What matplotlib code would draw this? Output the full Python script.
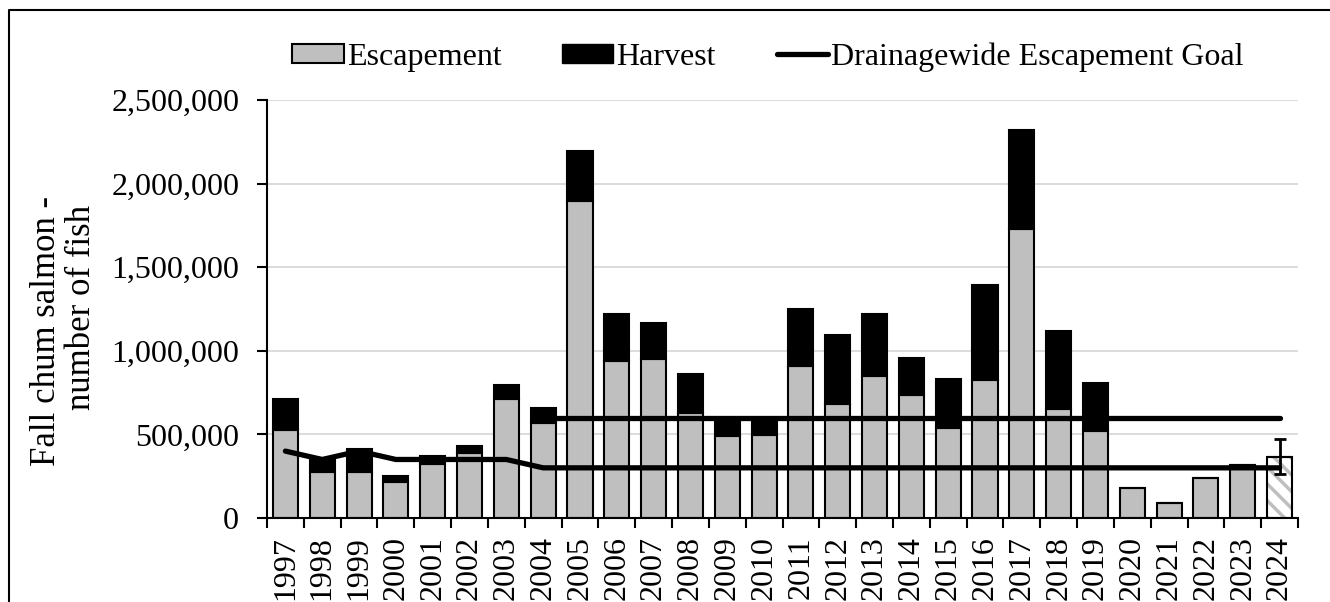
import numpy as np
import matplotlib
matplotlib.use("Agg")
import matplotlib.pyplot as plt
from matplotlib.lines import Line2D
from matplotlib.ticker import FuncFormatter

plt.rcParams['font.family'] = ['Liberation Serif', 'DejaVu Serif']
plt.rcParams['hatch.linewidth'] = 2.5

# data
years = [str(y) for y in range(1997, 2025)]
escapement = [529000, 273000, 278000, 216000, 324000, 390000, 709000, 569000,
              1898000, 939000, 949000, 629000, 489000, 499000, 909000, 683000,
              849000, 735000, 537000, 825000, 1728000, 649000, 523000, 180000,
              90000, 240000, 315000, 366000]
harvest = [180000, 87000, 137000, 33000, 49000, 39000, 86000, 86000,
           296000, 280000, 218000, 232000, 111000, 91000, 340000, 410000,
           374000, 224000, 296000, 569000, 594000, 470000, 282000, 0,
           0, 0, 0, 0]
goal_lower = [400000, 350000, 400000, 350000, 350000, 350000, 350000] + [300000] * 21
goal_upper = [600000] * 21   # 2004-2024
err_low_2024 = 266000
err_high_2024 = 474000

x = np.arange(len(years))
gray = '#bfbfbf'
fs = 23

fig = plt.figure(figsize=(13.3, 6.02), dpi=100)
ax = fig.add_axes([267 / 1330, 1 - 518 / 602, (1298 - 267) / 1330, (518 - 100) / 602])

bw = 0.68
esc_bars = ax.bar(x, escapement, width=bw, color=gray, edgecolor='black', linewidth=1.5, zorder=2)
ax.bar(x, harvest, bottom=escapement, width=bw, color='black', edgecolor='black', linewidth=1.5, zorder=2)

# 2024 is a preliminary estimate: hatched bar with error bar
last = esc_bars[-1]
last.set_facecolor('white')
last.set_hatch('\\\\')
last._hatch_color = matplotlib.colors.to_rgba(gray)
ax.errorbar(x[-1], escapement[-1],
            yerr=[[escapement[-1] - err_low_2024], [err_high_2024 - escapement[-1]]],
            fmt='none', ecolor='black', elinewidth=2, capsize=4.5, capthick=2, zorder=4)

ax.plot(x, goal_lower, color='black', lw=3.8, solid_capstyle='round', solid_joinstyle='round', zorder=3)
ax.plot(x[years.index('2004'):], goal_upper, color='black', lw=3.8, solid_capstyle='round', zorder=3)

ax.set_xlim(-0.5, len(years) - 0.5)
ax.set_ylim(0, 2500000)
ax.set_yticks(np.arange(0, 2500001, 500000))
ax.yaxis.set_major_formatter(FuncFormatter(lambda v, p: f'{int(v):,}'))
ax.set_xticks(x)
ax.set_xticklabels(years, rotation=90, fontsize=fs)
ax.set_xticks(np.arange(-0.5, len(years), 1), minor=True)
ax.tick_params(axis='x', which='major', length=0, pad=13)
ax.tick_params(axis='x', which='minor', length=7, width=1.5, direction='out')
ax.tick_params(axis='y', labelsize=fs, length=7, width=1.5, pad=13)
ax.grid(axis='y', color='#d9d9d9', lw=1.3, zorder=0)
ax.set_axisbelow(True)
for s in ['top', 'right']:
    ax.spines[s].set_visible(False)
for s in ['left', 'bottom']:
    ax.spines[s].set_linewidth(1.5)

fig.text(47 / 1330, 1 - 331 / 602, 'Fall chum salmon -', rotation=90,
         ha='center', va='center', fontsize=25)
fig.text(82 / 1330, 1 - 307 / 602, 'number of fish', rotation=90,
         ha='center', va='center', fontsize=25)

handles = [plt.Rectangle((0, 0), 1, 1, facecolor=gray, edgecolor='black', lw=1.5),
           plt.Rectangle((0, 0), 1, 1, facecolor='black', edgecolor='black'),
           Line2D([0], [0], color='black', lw=3.8, solid_capstyle='round')]
fig.legend(handles, ['Escapement', 'Harvest', 'Drainagewide Escapement Goal'],
           loc='center', bbox_to_anchor=(768 / 1330, 1 - 57 / 602), ncol=3, frameon=False,
           fontsize=fs, handlelength=1.6, handleheight=0.55, handletextpad=0.1,
           columnspacing=1.9)

# outer frame (top and left edges visible)
fig.add_artist(Line2D([9 / 1330, 9 / 1330, 1.0], [0.0, 1 - 10 / 602, 1 - 10 / 602],
                      transform=fig.transFigure, color='black', lw=1.5))

fig.savefig('out.png', dpi=100)
